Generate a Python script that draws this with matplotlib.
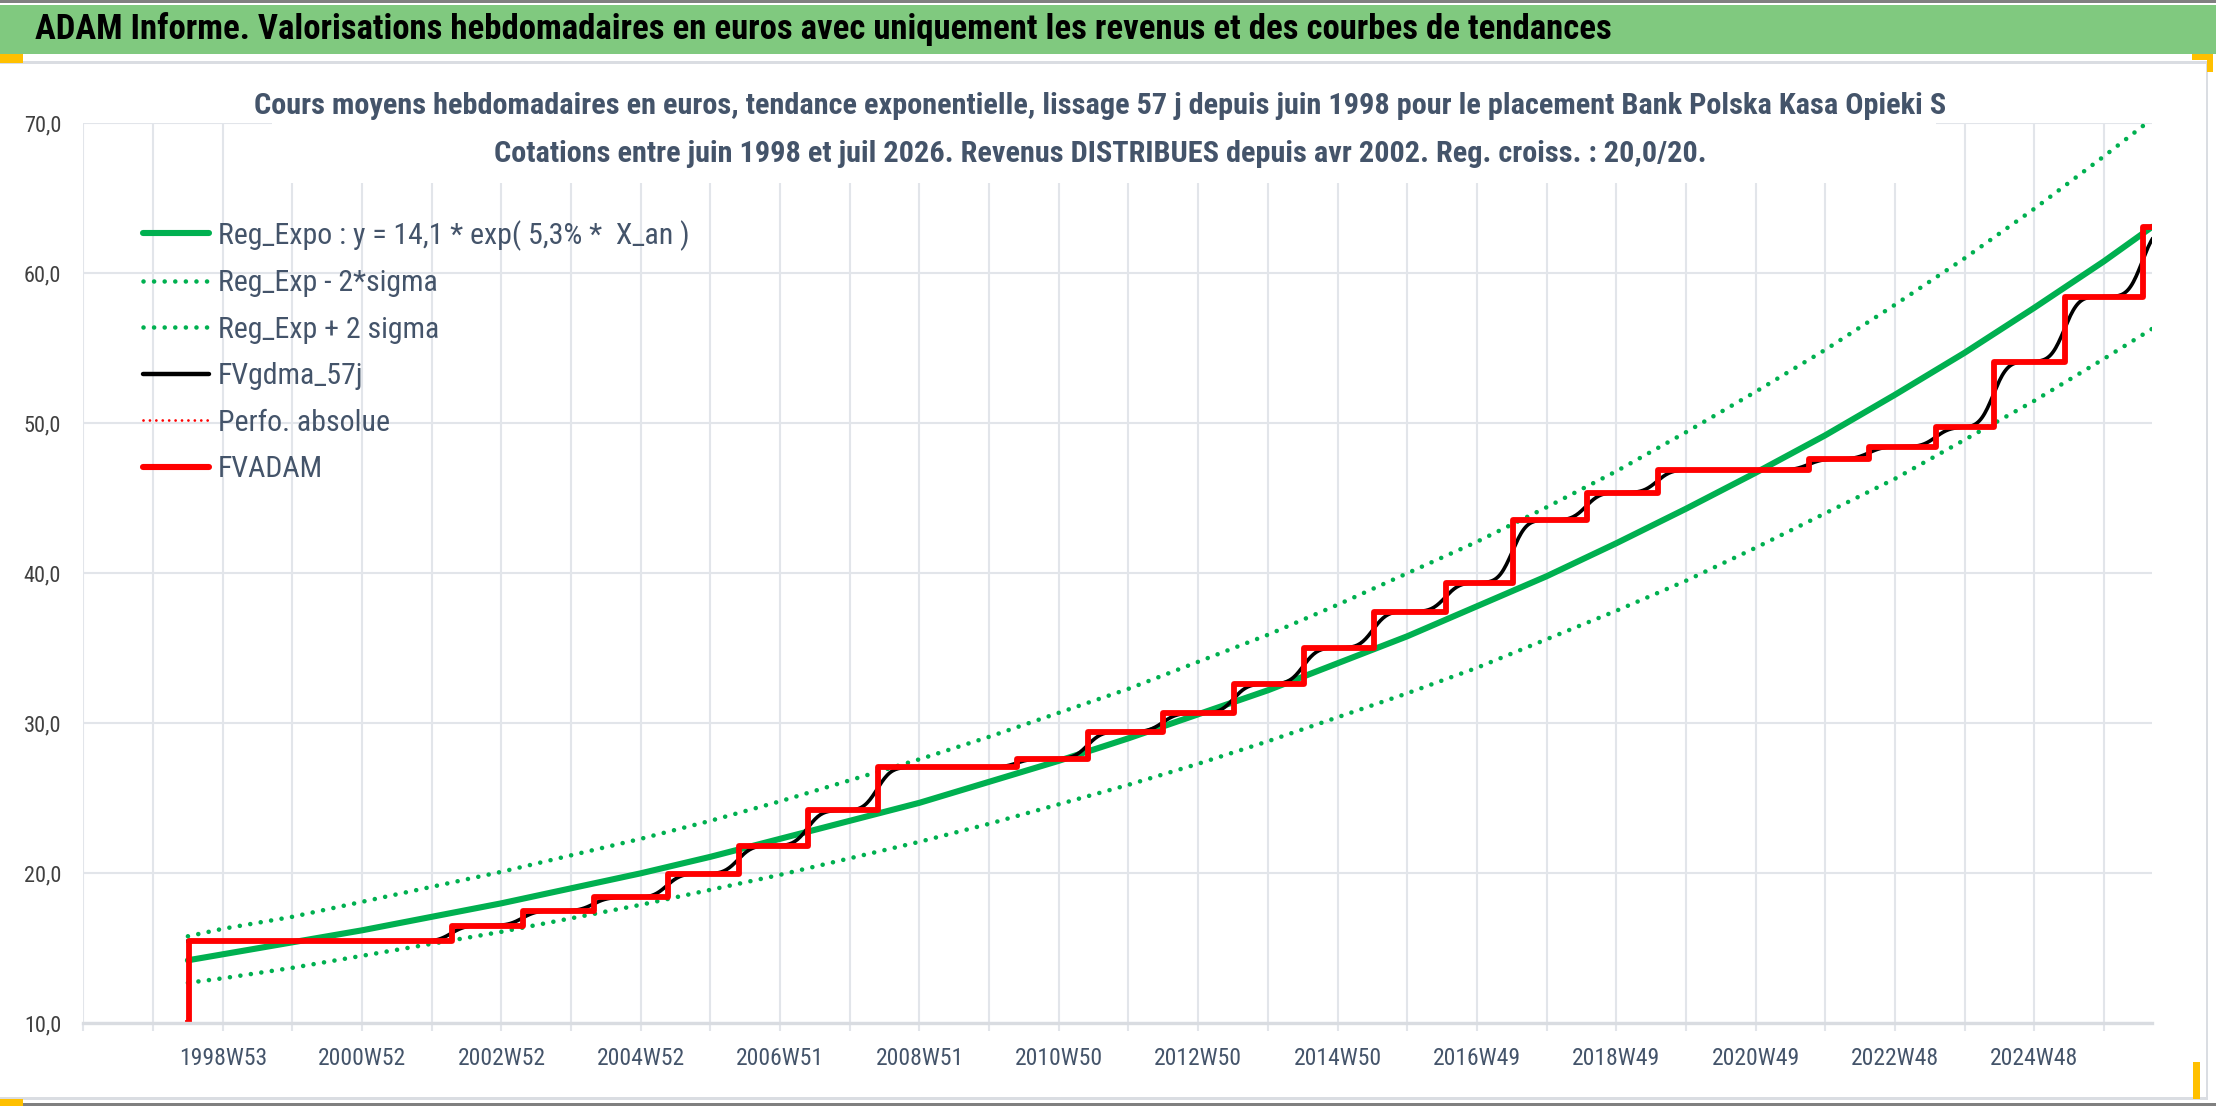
import numpy as np
import matplotlib
matplotlib.use("Agg")
import matplotlib.pyplot as plt
from matplotlib import font_manager
from matplotlib.patches import Rectangle
from matplotlib.lines import Line2D

# ---------------- data ----------------
# x = weeks since the first quotation (June 1998)
trend_weeks = [0, 26, 78, 130, 182, 234, 286, 338, 390, 442, 494, 546, 598, 650, 702,
               754, 806, 858, 910, 962, 1014, 1066, 1118, 1170, 1222, 1274, 1326, 1378, 1430, 1466]
reg_expo = [14.2, 14.6, 15.4, 16.2, 17.1, 18.0, 19.0, 20.0, 21.1, 22.3, 23.5, 24.7, 26.1, 27.5, 29.0,
            30.6, 32.2, 34.0, 35.8, 37.8, 39.8, 42.0, 44.3, 46.7, 49.2, 51.9, 54.7, 57.7, 60.8, 63.1]
reg_minus = [12.7, 13.0, 13.7, 14.5, 15.3, 16.1, 17.0, 17.9, 18.9, 19.9, 21.0, 22.1, 23.3, 24.6, 25.9,
             27.3, 28.8, 30.4, 32.0, 33.7, 35.6, 37.5, 39.5, 41.7, 44.0, 46.3, 48.9, 51.5, 54.3, 56.3]
reg_plus = [15.8, 16.3, 17.1, 18.1, 19.1, 20.1, 21.2, 22.3, 23.5, 24.8, 26.2, 27.6, 29.1, 30.7, 32.3,
            34.1, 35.9, 37.9, 40.0, 42.1, 44.4, 46.8, 49.4, 52.1, 54.9, 57.9, 61.0, 64.3, 67.8, 70.3]

# FVADAM: level reached at each distribution week
step_weeks = [0, 197, 250, 303, 358, 411, 463, 515, 619, 672, 728, 781, 833, 885, 939,
              989, 1044, 1097, 1210, 1255, 1305, 1348, 1401, 1459]
step_levels = [15.47, 16.52, 17.50, 18.39, 19.97, 21.84, 24.19, 27.06, 27.64, 29.44, 30.67, 32.62,
               35.03, 37.45, 39.37, 43.55, 45.38, 46.89, 47.62, 48.44, 49.73, 54.11, 58.44, 63.10]
first_value = 10.0
last_week = 1466

smoothing_weeks = 57 / 7.0  # "lissage 57 j"

tick_labels = ["1998W53", "2000W52", "2002W52", "2004W52", "2006W51", "2008W51", "2010W50",
               "2012W50", "2014W50", "2016W49", "2018W49", "2020W49", "2022W48", "2024W48"]
y_ticks = [10, 20, 30, 40, 50, 60, 70]

header = "ADAM Informe. Valorisations hebdomadaires en euros avec uniquement les revenus et des courbes de tendances"
title1 = ("Cours moyens hebdomadaires en euros, tendance exponentielle, lissage 57 j depuis juin 1998 "
          "pour le placement Bank Polska Kasa Opieki S")
title2 = ("Cotations entre juin 1998 et juil 2026. Revenus DISTRIBUES depuis avr 2002. "
          "Reg. croiss. : 20,0/20.")
legend_labels = ["Reg_Expo : y = 14,1 * exp( 5,3% *  X_an )", "Reg_Exp - 2*sigma",
                 "Reg_Exp + 2 sigma", "FVgdma_57j", "Perfo. absolue", "FVADAM"]

# ---------------- fonts ----------------
names = {f.name for f in font_manager.fontManager.ttflist}
FONT = next((n for n in ["Liberation Sans Narrow", "Roboto Condensed", "Open Sans Condensed",
                         "Liberation Sans"] if n in names), "DejaVu Sans")
plt.rcParams["font.family"] = [FONT, "DejaVu Sans"]

# ---------------- figure ----------------
W, H = 2216, 1106
fig = plt.figure(figsize=(W / 100, H / 100), dpi=100)


def fx(px):
    return px / W


def fy(py):
    return 1 - py / H


AX_L, AX_R, AX_T, AX_B = 83.4, 2152, 123.3, 1023.3
ax = fig.add_axes([fx(AX_L), fy(AX_B), (AX_R - AX_L) / W, (AX_B - AX_T) / H])

# decorations of the sheet
fig.patches.append(Rectangle((0, fy(54)), 1, 49 / H, transform=fig.transFigure,
                             facecolor="#80C97F", edgecolor="none", zorder=0))
fig.patches.append(Rectangle((0, fy(3)), 1, 3 / H, transform=fig.transFigure,
                             facecolor="#808080", edgecolor="none", zorder=0))
fig.patches.append(Rectangle((0, fy(64)), fx(2208), 3 / H, transform=fig.transFigure,
                             facecolor="#DADDE2", edgecolor="none", zorder=0))
fig.patches.append(Rectangle((0, fy(1100)), fx(2208), 3 / H, transform=fig.transFigure,
                             facecolor="#DADDE2", edgecolor="none", zorder=0))
fig.patches.append(Rectangle((fx(2206), fy(1100)), 2 / W, (1100 - 62) / H, transform=fig.transFigure,
                             facecolor="#DADDE2", edgecolor="none", zorder=0))
fig.patches.append(Rectangle((0, 0), 1, 3 / H, transform=fig.transFigure,
                             facecolor="#808080", edgecolor="none", zorder=0))
for (x0, y0, w, h) in [(0, 54, 23, 9), (2192, 54, 21, 6), (2207, 54, 6, 18),
                       (0, 1099, 23, 7), (2193, 1062, 7, 37)]:
    fig.patches.append(Rectangle((fx(x0), fy(y0 + h)), w / W, h / H, transform=fig.transFigure,
                                 facecolor="#FFC000", edgecolor="none", zorder=0))

fig.text(fx(35), fy(29), header, fontsize=25, fontweight="bold", color="black",
         ha="left", va="center")

# ---------------- series ----------------
x_start = -78
x_end = 29.69 * 52 - 78

weeks = np.arange(0, last_week + 1)
idx = np.searchsorted(step_weeks, weeks, side="right") - 1
weekly = np.array(step_levels)[idx]

sig = smoothing_weeks
half = int(4 * sig)
k = np.exp(-0.5 * (np.arange(-half, half + 1) / sig) ** 2)
k /= k.sum()
padded = np.concatenate([np.full(half, weekly[0]), weekly, np.full(half, weekly[-1])])
smooth = np.convolve(padded, k, mode="valid")

fv_x = [0] + [w + 1 if w == 0 else w for w in step_weeks] + [last_week]
fv_y = [first_value] + list(step_levels) + [step_levels[-1]]

GREEN = "#00B050"
DOT = (0, (0.01, 2.3))
ax.plot(trend_weeks, reg_expo, color=GREEN, lw=4.4, solid_capstyle="round", zorder=2)
ax.plot(trend_weeks, reg_minus, color=GREEN, lw=3.3, linestyle=DOT,
        dash_capstyle="round", zorder=2.1)
ax.plot(trend_weeks, reg_plus, color=GREEN, lw=3.3, linestyle=DOT,
        dash_capstyle="round", zorder=2.2)
ax.plot(weeks, smooth, color="black", lw=2.6, zorder=2.3)
ax.step(fv_x, fv_y, where="post", color="red", lw=1.5, linestyle=DOT,
        dash_capstyle="round", zorder=2.4)
ax.step(fv_x, fv_y, where="post", color="#FF0000", lw=4.2, zorder=2.5)

# ---------------- axes ----------------
ax.set_xlim(x_start, x_end)
ax.set_ylim(10, 70)
grid_pos = [x_start + 52 * i for i in range(30)]
ax.set_xticks(grid_pos)
lab = [""] * 30
for j, t in enumerate(tick_labels):
    lab[2 + 2 * j] = t
ax.set_xticklabels(lab)
ax.set_yticks(y_ticks)
ax.set_yticklabels([f"{v:.1f}".replace(".", ",") for v in y_ticks])
GRID = "#E2E5EA"
ax.grid(True, color=GRID, lw=1.5)
ax.set_axisbelow(True)
for s in ["top", "right", "left"]:
    ax.spines[s].set_visible(False)
ax.spines["bottom"].set_color("#D9DCE1")
ax.spines["bottom"].set_linewidth(2.4)
ax.tick_params(axis="x", length=6, width=1.5, color=GRID, labelsize=17, labelcolor="#44546A", pad=11)
ax.tick_params(axis="y", length=0, labelsize=16, labelcolor="#404040", pad=16)
ax.set_facecolor("white")

# white area behind the chart title
ax.add_patch(Rectangle((fx(272), fy(183)), fx(1936 - 272), 90 / H, transform=fig.transFigure,
                       facecolor="white", edgecolor="none", zorder=1, clip_on=False))
fig.text(fx(1100), fy(106), title1, fontsize=21.8, fontweight="bold", color="#44546A",
         ha="center", va="center", zorder=5)
fig.text(fx(1100), fy(154), title2, fontsize=21.8, fontweight="bold", color="#44546A",
         ha="center", va="center", zorder=5)

# ---------------- legend ----------------
handles = [
    Line2D([], [], color=GREEN, lw=4.4, solid_capstyle="round"),
    Line2D([], [], color=GREEN, lw=3.3, linestyle=DOT, dash_capstyle="round"),
    Line2D([], [], color=GREEN, lw=3.3, linestyle=DOT, dash_capstyle="round"),
    Line2D([], [], color="black", lw=3.2, solid_capstyle="round"),
    Line2D([], [], color="red", lw=2.0, linestyle=DOT, dash_capstyle="round"),
    Line2D([], [], color="red", lw=4.4, solid_capstyle="round"),
]
leg = ax.legend(handles, legend_labels, loc="upper left", bbox_to_anchor=(fx(143), fy(220)),
                bbox_transform=fig.transFigure, frameon=False, fontsize=21.5,
                handlelength=2.2, handletextpad=0.3, labelspacing=0.62, borderpad=0,
                borderaxespad=0)
for t in leg.get_texts():
    t.set_color("#44546A")

fig.savefig("out.png", dpi=100, facecolor="white")
